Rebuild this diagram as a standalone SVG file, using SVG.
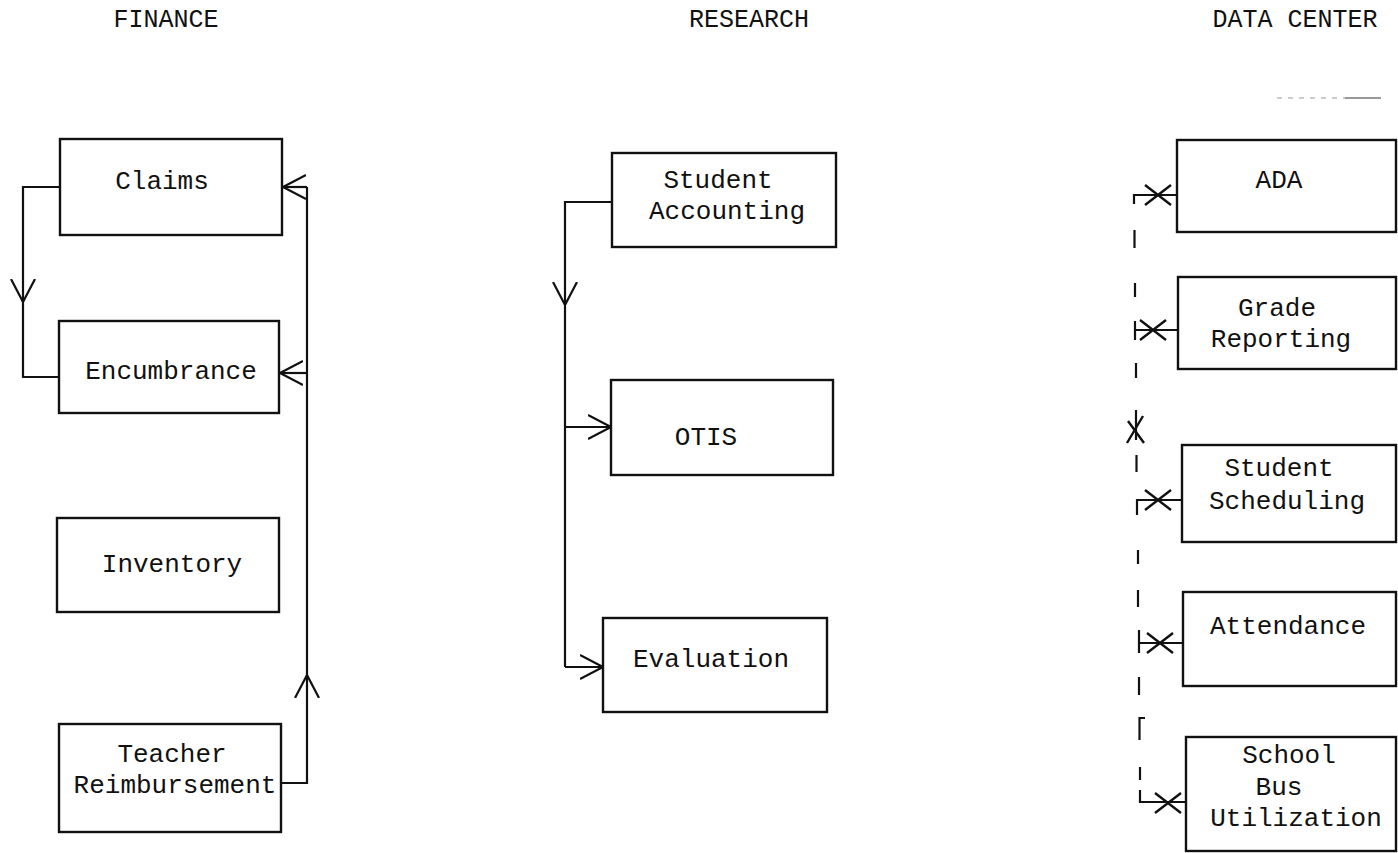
<svg xmlns="http://www.w3.org/2000/svg" width="1398" height="853" viewBox="0 0 1398 853">
  <style>
    .box { fill: #fff; stroke: #111; stroke-width: 2.4; }
    .lbl { font-family: "Liberation Mono", "DejaVu Sans Mono", monospace; font-size: 26px; fill: #111; text-anchor: middle; }
    .head { font-family: "Liberation Mono", "DejaVu Sans Mono", monospace; font-size: 25px; fill: #111; text-anchor: middle; }
    .wire { fill: none; stroke: #111; stroke-width: 2.2; }
    .mark { fill: none; stroke: #111; stroke-width: 2.4; }
  </style>
  <defs>
    <!-- open V arrowhead, tip at the end of the line -->
    <marker id="vee" viewBox="0 0 23 26" refX="23" refY="13" markerWidth="23" markerHeight="26" markerUnits="userSpaceOnUse" orient="auto">
      <path d="M0,1 L23,13 L0,25" fill="none" stroke="#111" stroke-width="2.2"/>
    </marker>
    <!-- cross mark on the data center links -->
    <g id="cross">
      <path d="M-13,-10 L13,10 M-13,10 L13,-10" fill="none" stroke="#111" stroke-width="2.4"/>
    </g>
  </defs>

  <rect width="1398" height="853" fill="#fff"/>

  <!-- column headings -->
  <text class="head" x="166" y="27">FINANCE</text>
  <text class="head" x="749" y="27">RESEARCH</text>
  <text class="head" x="1295" y="27">DATA CENTER</text>
  <path d="M1277,98 H1345" stroke="#999" stroke-width="1.2" stroke-dasharray="5 6" fill="none"/>
  <path d="M1345,98 H1381" stroke="#777" stroke-width="1.4" fill="none"/>

  <!-- FINANCE -->
  <g id="claims">
    <rect class="box" x="60" y="139" width="222" height="96"/>
    <text class="lbl" x="162" y="189">Claims</text>
  </g>
  <g id="encumbrance">
    <rect class="box" x="59" y="321" width="220" height="92"/>
    <text class="lbl" x="171" y="379">Encumbrance</text>
  </g>
  <g id="inventory">
    <rect class="box" x="57" y="518" width="222" height="94"/>
    <text class="lbl" x="172" y="572">Inventory</text>
  </g>
  <g id="teacher-reimbursement">
    <rect class="box" x="59" y="724" width="222" height="108"/>
    <text class="lbl" x="172" y="762">Teacher</text>
    <text class="lbl" x="175" y="793">Reimbursement</text>
  </g>

  <!-- RESEARCH -->
  <g id="student-accounting">
    <rect class="box" x="612" y="153" width="224" height="94"/>
    <text class="lbl" x="718" y="188">Student</text>
    <text class="lbl" x="727" y="219">Accounting</text>
  </g>
  <g id="otis">
    <rect class="box" x="611" y="380" width="222" height="95"/>
    <text class="lbl" x="706" y="445">OTIS</text>
  </g>
  <g id="evaluation">
    <rect class="box" x="603" y="618" width="224" height="94"/>
    <text class="lbl" x="711" y="667">Evaluation</text>
  </g>

  <!-- DATA CENTER -->
  <g id="ada">
    <rect class="box" x="1177" y="140" width="219" height="92"/>
    <text class="lbl" x="1279" y="188">ADA</text>
  </g>
  <g id="grade-reporting">
    <rect class="box" x="1178" y="277" width="218" height="92"/>
    <text class="lbl" x="1277" y="316">Grade</text>
    <text class="lbl" x="1281" y="347">Reporting</text>
  </g>
  <g id="student-scheduling">
    <rect class="box" x="1182" y="445" width="214" height="97"/>
    <text class="lbl" x="1279" y="476">Student</text>
    <text class="lbl" x="1287" y="509">Scheduling</text>
  </g>
  <g id="attendance">
    <rect class="box" x="1183" y="592" width="213" height="94"/>
    <text class="lbl" x="1288" y="634">Attendance</text>
  </g>
  <g id="school-bus-utilization">
    <rect class="box" x="1186" y="737" width="210" height="114"/>
    <text class="lbl" x="1289" y="763">School</text>
    <text class="lbl" x="1279" y="795">Bus</text>
    <text class="lbl" x="1296" y="826">Utilization</text>
  </g>

  <g id="connectors">
    <!-- Claims to Encumbrance -->
    <path class="wire" d="M60,187 H23 V302" marker-end="url(#vee)"/>
    <path class="wire" d="M23,302 V377 H59"/>
    <!-- Teacher Reimbursement up the right side -->
    <path class="wire" d="M281,783 H307 V675" marker-end="url(#vee)"/>
    <path class="wire" d="M307,675 V187"/>
    <path class="wire" d="M307,187 H283" marker-end="url(#vee)"/>
    <path class="wire" d="M307,373 H280" marker-end="url(#vee)"/>

    <!-- Student Accounting fan-out -->
    <path class="wire" d="M612,202 H565 V305" marker-end="url(#vee)"/>
    <path class="wire" d="M565,305 V667"/>
    <path class="wire" d="M565,427 H611" marker-end="url(#vee)"/>
    <path class="wire" d="M565,667 H603" marker-end="url(#vee)"/>

    <!-- dashed data center spine with crossed links -->
    <path class="wire" d="M1134,204 V195 H1177"/>
    <use href="#cross" x="1158" y="195"/>
    <path class="wire" d="M1134.5,230 V248 M1135,283 V297"/>
    <path class="wire" d="M1135,321 V340 M1135,330 H1178"/>
    <use href="#cross" x="1153" y="330"/>
    <path class="wire" d="M1136,363 V378"/>
    <path class="wire" d="M1136,410 V440"/>
    <path class="mark" d="M1128,421 L1144,443 M1143,416 L1127,443"/>
    <path class="wire" d="M1136.5,455 V472"/>
    <path class="wire" d="M1137,515 V500 H1182"/>
    <use href="#cross" x="1158" y="500"/>
    <path class="wire" d="M1138,550 V564 M1138,590 V607"/>
    <path class="wire" d="M1139,630 V653 M1139,643 H1183"/>
    <use href="#cross" x="1160" y="643"/>
    <path class="wire" d="M1139,677 V695"/>
    <path class="wire" d="M1145,718 H1139.5 V740"/>
    <path class="wire" d="M1140,767 V780"/>
    <path class="wire" d="M1140,790 V802 H1186"/>
    <use href="#cross" x="1168" y="803"/>
  </g>
</svg>
